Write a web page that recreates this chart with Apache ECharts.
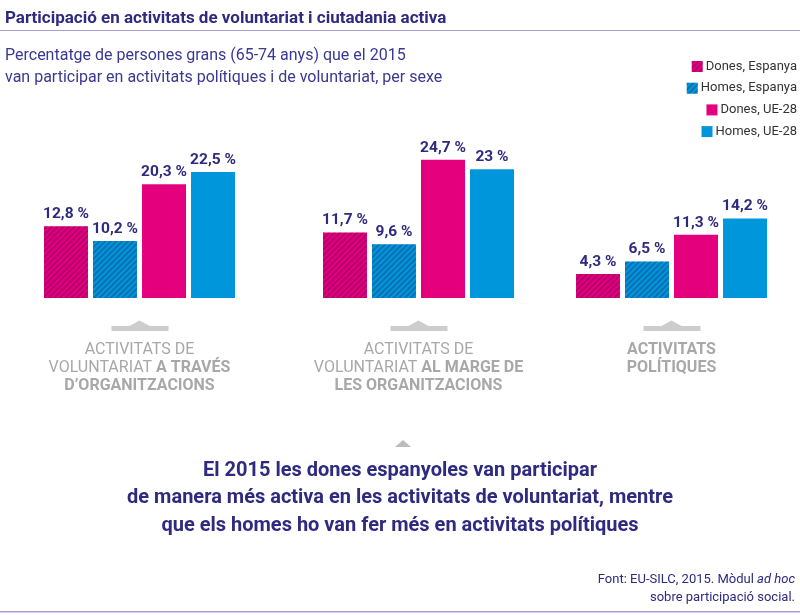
<!DOCTYPE html>
<html>
<head>
<meta charset="utf-8">
<script src="https://cdn.jsdelivr.net/npm/echarts@6/dist/echarts.min.js"></script>
<style>
  html, body { margin: 0; padding: 0; background: #fff; }
  #main { width: 800px; height: 615px; }
</style>
</head>
<body>
<div id="main"></div>
<script>
// categories: plain part + bold part of each label
const categoryPlain = ["ACTIVITATS DE\nVOLUNTARIAT ", "ACTIVITATS DE\nVOLUNTARIAT ", ""];
const categoryBold = ["A TRAVÉS\nD’ORGANITZACIONS", "AL MARGE DE\nLES ORGANITZACIONS", "ACTIVITATS\nPOLÍTIQUES"];

const seriesNames = ["Dones, Espanya", "Homes, Espanya", "Dones, UE-28", "Homes, UE-28"];
const donesEspanya = [12.8, 11.7, 4.3];
const homesEspanya = [10.2, 9.6, 6.5];
const donesUE28 = [20.3, 24.7, 11.3];
const homesUE28 = [22.5, 23, 14.2];

const navy = "#2e2a80";
const magenta = "#e4007d";
const blue = "#0096db";
const font = "Roboto";

let chartDom = document.getElementById("main");
let myChart = echarts.init(chartDom);

const gridLefts = [44, 323, 576];
const gridWidth = 191;
const seriesValues = [donesEspanya, homesEspanya, donesUE28, homesUE28];
const seriesColors = [magenta, blue, magenta, blue];
const hatched = [true, true, false, false];

function hatch() {
  return {
    symbol: "rect",
    symbolSize: 1,
    dashArrayX: [1, 0],
    dashArrayY: [2, 2],
    rotation: -Math.PI / 4,
    color: "rgba(40,0,60,0.25)",
  };
}

let grids = [], xAxes = [], yAxes = [], series = [];
gridLefts.forEach((left, i) => {
  grids.push({ left: left, width: gridWidth, top: 130, bottom: 317 });
  xAxes.push({
    type: "category",
    gridIndex: i,
    data: [categoryPlain[i] + categoryBold[i]],
    axisLine: { show: false },
    axisTick: { show: false },
    axisLabel: {
      interval: 0,
      margin: 43,
      formatter: function () {
        let s = "";
        if (categoryPlain[i]) s += "{n|" + categoryPlain[i] + "}";
        s += "{b|" + categoryBold[i] + "}";
        return s;
      },
      rich: {
        n: { fontFamily: font, fontSize: 16, color: "#a8a8a8", lineHeight: 18 },
        b: { fontFamily: font, fontSize: 16, fontWeight: "bold", color: "#a8a8a8", lineHeight: 18 },
      },
    },
  });
  yAxes.push({ type: "value", gridIndex: i, min: 0, max: 30, show: false, splitLine: { show: false } });
  seriesNames.forEach((name, s) => {
    let itemStyle = { color: seriesColors[s] };
    if (hatched[s]) itemStyle.decal = hatch();
    series.push({
      type: "bar",
      name: name,
      xAxisIndex: i,
      yAxisIndex: i,
      barWidth: 44,
      barGap: "11.4%",
      itemStyle: itemStyle,
      label: {
        show: true,
        position: "top",
        distance: 4,
        color: navy,
        fontFamily: font,
        fontWeight: "bold",
        fontSize: 15.5,
        formatter: (p) => String(p.value).replace(".", ",") + " %",
      },
      emphasis: { disabled: true },
      data: [seriesValues[s][i]],
    });
  });
});

// decorative markers under each group
let graphics = [
  { type: "rect", shape: { x: 0, y: 30, width: 800, height: 1 }, style: { fill: "#a5a2d0" } },
  { type: "rect", shape: { x: 0, y: 611, width: 800, height: 1.5 }, style: { fill: "#a5a2d0" } },
  { type: "polygon", shape: { points: [[395, 447], [403, 440], [411, 447]] }, style: { fill: "#bcbcbc" } },
];
gridLefts.forEach((left) => {
  const cx = left + gridWidth / 2;
  graphics.push({ type: "rect", shape: { x: cx - 28, y: 326, width: 57, height: 5 }, style: { fill: "#cdcdcd" } });
  graphics.push({ type: "polygon", shape: { points: [[cx - 11, 326.5], [cx, 320.5], [cx + 11, 326.5]] }, style: { fill: "#cdcdcd" } });
});

let legends = seriesNames.map((name, s) => ({
  data: [name],
  right: 3,
  top: 60 + s * 21.7,
  padding: 0,
  icon: "rect",
  itemWidth: 11,
  itemHeight: 11,
  itemGap: 0,
  selectedMode: false,
  textStyle: { fontFamily: font, fontSize: 13, color: "#333", padding: [0, 0, 0, -2] },
}));

let option = {
  animation: false,
  title: [
    {
      text: "Participació en activitats de voluntariat i ciutadania activa",
      left: 0,
      top: 5,
      textStyle: { fontFamily: font, fontSize: 17, fontWeight: "bold", color: navy },
    },
    {
      text: "Percentatge de persones grans (65-74 anys) que el 2015\nvan participar en activitats polítiques i de voluntariat, per sexe",
      left: 0,
      top: 40,
      textStyle: { fontFamily: font, fontSize: 16, fontWeight: "normal", color: "#3a3890", lineHeight: 22 },
    },
    {
      text: "El 2015 les dones espanyoles van participar\nde manera més activa en les activitats de voluntariat, mentre\nque els homes ho van fer més en activitats polítiques",
      left: "center",
      top: 452,
      textStyle: { fontFamily: font, fontSize: 20, fontWeight: "bold", color: navy, lineHeight: 27.5 },
    },
    {
      text: "Font: EU-SILC, 2015. Mòdul {i|ad hoc}\nsobre participació social.",
      left: "right",
      top: 566,
      textStyle: {
        fontFamily: font, fontSize: 13, fontWeight: "normal", color: navy, lineHeight: 18,
        rich: { i: { fontFamily: font, fontSize: 13, fontStyle: "italic", color: navy } },
      },
    },
  ],
  legend: legends,
  grid: grids,
  xAxis: xAxes,
  yAxis: yAxes,
  series: series,
  graphic: graphics,
};

option && myChart.setOption(option);
</script>
</body>
</html>
